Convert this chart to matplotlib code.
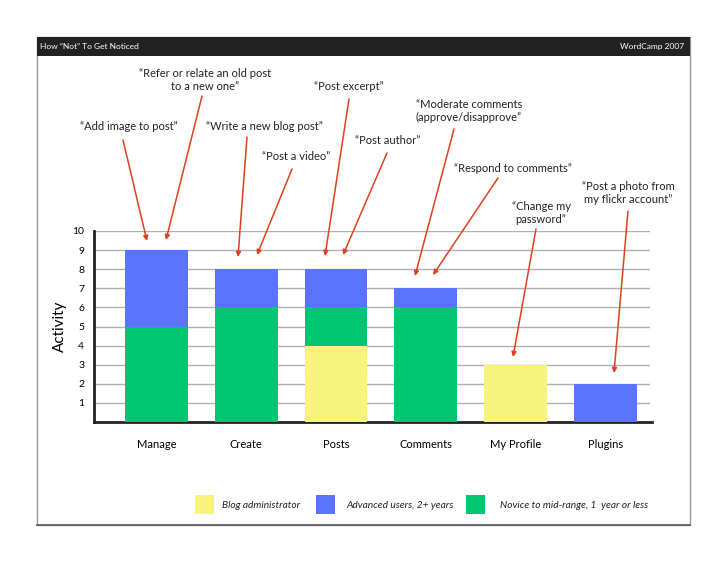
import matplotlib
matplotlib.use("Agg")
import matplotlib.pyplot as plt
from matplotlib.patches import Rectangle
import numpy as np

plt.rcParams['font.family'] = ['Lato', 'DejaVu Sans']

W, H = 728, 563

categories = ['Manage', 'Create', 'Posts', 'Comments', 'My Profile', 'Plugins']
series_names = ['Blog administrator', 'Advanced users, 2+ years',
                'Novice to mid-range, 1  year or less']
admin = [0, 0, 4, 0, 3, 0]
novice = [5, 6, 2, 6, 0, 0]
advanced = [4, 2, 2, 1, 0, 2]
yticks = list(range(1, 11))

col_admin = '#F8F37C'
col_adv = '#5B74FF'
col_nov = '#00C571'
col_arrow = '#E0401E'

# callouts: text, text centre (px from top-left), arrow start (px), arrow end (px)
notes = [
    ('\u201cRefer or relate an old post\nto a new one\u201d', (205, 80), (202, 96), (166, 240)),
    ('\u201cPost excerpt\u201d', (349, 87), (349, 99), (325, 256)),
    ('\u201cModerate comments\n(approve/disapprove\u201d', (469, 111), (454, 129), (415, 276)),
    ('\u201cAdd image to post\u201d', (129, 126), (123, 140), (147, 241)),
    ('\u201cWrite a new blog post\u201d', (264, 126), (247, 137), (238, 257)),
    ('\u201cPost author\u201d', (388, 141), (387, 153), (343, 255)),
    ('\u201cPost a video\u201d', (296, 157), (292, 169), (257, 255)),
    ('\u201cRespond to comments\u201d', (513, 168), (498, 178), (433, 275)),
    ('\u201cPost a photo from\nmy flickr account\u201d', (628, 193), (628, 211), (614, 373)),
    ('\u201cChange my\npassword\u201d', (541, 213), (536, 229), (513, 357)),
]


def fx(x):
    return x / W


def fy(y):
    return 1 - y / H


fig = plt.figure(figsize=(W / 100, H / 100), dpi=100)
fig.patch.set_facecolor('white')

# slide frame and header bar
fig.patches.append(Rectangle((fx(37), fy(525)), fx(690) - fx(37), fy(37) - fy(525),
                             transform=fig.transFigure, fill=False, ec='#9a9a9a', lw=1))
fig.add_artist(plt.Line2D([fx(37), fx(690)], [fy(525), fy(525)], color='#555555', lw=1.2))
fig.patches.append(Rectangle((fx(37), fy(56)), fx(690) - fx(37), fy(37) - fy(56),
                             transform=fig.transFigure, color='#222222', lw=0))
fig.text(fx(40), fy(46.5), 'How \u201cNot\u201d To Get Noticed', color='white',
         fontsize=6, va='center', ha='left')
fig.text(fx(684), fy(46.5), 'WordCamp 2007', color='white',
         fontsize=6, va='center', ha='right')

ax = fig.add_axes([fx(94), fy(422), fx(650) - fx(94), fy(231) - fy(422)])
x = np.arange(len(categories))
width = 0.70
bottom = np.zeros(len(categories))
for vals, c in [(admin, col_admin), (novice, col_nov), (advanced, col_adv)]:
    vals = np.array(vals, dtype=float)
    ax.bar(x, vals, width, bottom=bottom, color=c, zorder=3, lw=0)
    bottom += vals

ax.set_xlim(-0.694, 5.496)
ax.set_ylim(0, 10)
ax.set_yticks(yticks)
ax.set_yticklabels([str(t) for t in yticks], fontsize=7.5)
ax.yaxis.grid(True, color='#b0b0b0', lw=1, zorder=0)
ax.set_xticks(x)
ax.set_xticklabels(categories, fontsize=8)
ax.tick_params(axis='both', length=0)
ax.tick_params(axis='x', pad=12)
ax.tick_params(axis='y', pad=7)
for s in ['top', 'right']:
    ax.spines[s].set_visible(False)
ax.spines['left'].set_linewidth(2)
ax.spines['left'].set_color('#222222')
ax.spines['bottom'].set_linewidth(2)
ax.spines['bottom'].set_color('#222222')
ax.spines['bottom'].set_bounds(-0.694, 5.52)
ax.set_ylabel('Activity', fontsize=11, labelpad=4)

# callouts
for txt, tpos, start, end in notes:
    fig.text(fx(tpos[0]), fy(tpos[1]), txt, ha='center', va='center',
             fontsize=8, linespacing=1.3, color='#222222')
    ax.annotate('', xy=(fx(end[0]), fy(end[1])), xycoords='figure fraction',
                xytext=(fx(start[0]), fy(start[1])), textcoords='figure fraction',
                arrowprops=dict(arrowstyle='-|>', color=col_arrow, lw=1.1,
                                mutation_scale=7, shrinkA=0, shrinkB=0),
                annotation_clip=False)

# legend
legend_items = [(series_names[0], col_admin, 195, 222),
                (series_names[1], col_adv, 316, 346),
                (series_names[2], col_nov, 466, 500)]
for name, c, bx, tx in legend_items:
    fig.patches.append(Rectangle((fx(bx), fy(514)), fx(19), 19 / H,
                                 transform=fig.transFigure, color=c, lw=0))
    fig.text(fx(tx), fy(505), name, fontsize=7.3, style='italic',
             va='center', ha='left', color='#222222')

fig.savefig('out.png', dpi=100)
